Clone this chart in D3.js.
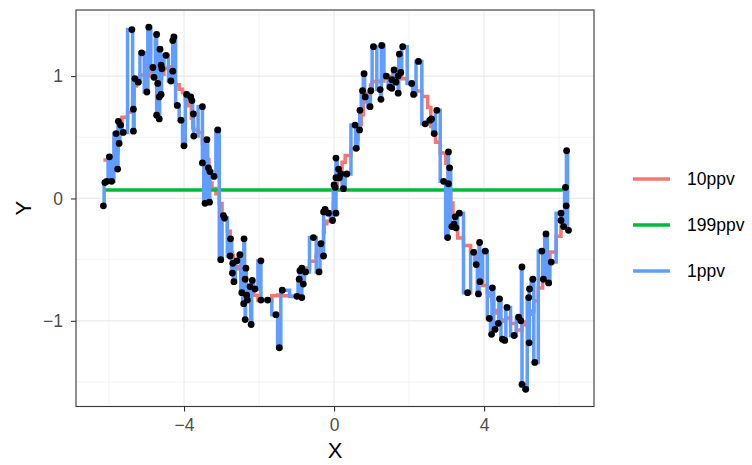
<!DOCTYPE html>
<html>
<head>
<meta charset="utf-8">
<script src="https://cdn.jsdelivr.net/npm/d3@7"></script>
<style>
  body { margin: 0; background: #fff; }
  svg text { font-family: "Liberation Sans", Arial, sans-serif; }
</style>
</head>
<body>
<div id="chart-root"></div>
<script>
// point values (sorted by x)
const xValues = [
  -6.15, -6.11, -6.06, -5.99, -5.93, -5.81, -5.77, -5.75, -5.73, -5.69,
  -5.62, -5.39, -5.35, -5.35, -5.31, -5.22, -5.13, -4.99, -4.94, -4.83,
  -4.80, -4.73, -4.73, -4.70, -4.66, -4.66, -4.64, -4.61, -4.61, -4.59,
  -4.48, -4.35, -4.30, -4.30, -4.27, -4.18, -4.08, -4.00, -3.93, -3.82,
  -3.79, -3.75, -3.74, -3.51, -3.51, -3.44, -3.39, -3.35, -3.32, -3.31,
  -3.20, -3.10, -3.02, -2.95, -2.92, -2.77, -2.76, -2.71, -2.70, -2.67,
  -2.59, -2.51, -2.46, -2.41, -2.40, -2.37, -2.37, -2.35, -2.33, -2.31,
  -2.24, -2.21, -2.18, -2.11, -1.95, -1.95, -1.77, -1.55, -1.46, -1.38,
  -0.99, -0.93, -0.91, -0.86, -0.86, -0.82, -0.76, -0.55, -0.40, -0.35,
  -0.28, -0.28, -0.24, -0.15, -0.04, 0.00, 0.03, 0.05, 0.05, 0.05,
  0.12, 0.14, 0.18, 0.25, 0.34, 0.56, 0.59, 0.68, 0.69, 0.76,
  0.80, 0.83, 0.96, 0.98, 1.05, 1.23, 1.25, 1.27, 1.39, 1.49,
  1.54, 1.54, 1.60, 1.65, 1.71, 1.71, 1.74, 1.78, 1.83, 2.07,
  2.12, 2.25, 2.43, 2.56, 2.60, 2.67, 2.74, 2.92, 3.03, 3.05,
  3.05, 3.08, 3.14, 3.20, 3.23, 3.25, 3.34, 3.56, 3.72, 3.79,
  3.85, 3.88, 3.89, 4.03, 4.14, 4.20, 4.22, 4.29, 4.38, 4.41,
  4.49, 4.55, 4.61, 4.80, 4.92, 4.98, 5.01, 5.01, 5.11, 5.19,
  5.20, 5.21, 5.30, 5.35, 5.54, 5.58, 5.65, 5.72, 5.79, 6.05,
  6.05, 6.12, 6.17, 6.19, 6.20, 6.25
];
const yValues = [
  -0.06, 0.13, 0.14, 0.34, 0.14, 0.53, 0.24, 0.63, 0.45, 0.60,
  0.54, 1.38, 0.73, 0.55, 0.98, 0.95, 1.19, 0.87, 1.40, 1.07,
  0.99, 1.34, 0.68, 0.94, 0.83, 0.65, 1.22, 1.09, 0.85, 1.06,
  1.17, 0.96, 1.04, 1.29, 1.32, 0.76, 0.64, 0.43, 0.85, 0.83,
  0.80, 0.69, 0.51, 0.75, 0.29, -0.04, 0.48, 0.25, -0.03, 0.22,
  0.18, 0.56, -0.50, -0.14, -0.16, -0.47, -0.33, -0.61, -0.53, -0.68,
  -0.51, -0.46, -0.77, -0.86, -0.33, -0.66, -0.99, -0.57, -0.79, -0.83,
  -0.72, -1.03, -0.67, -0.74, -0.51, -0.83, -0.83, -0.95, -1.22, -0.75,
  -0.80, -0.66, -0.59, -0.81, -0.57, -0.70, -0.60, -0.32, -0.60, -0.37,
  -0.47, -0.11, -0.09, -0.12, -0.18, 0.11, 0.09, -0.12, 0.17, 0.33,
  0.24, 0.17, 0.20, 0.08, 0.20, 0.60, 0.41, 0.56, 0.72, 0.88,
  1.02, 0.83, 0.75, 0.88, 1.24, 0.89, 0.81, 1.25, 1.00, 0.91,
  0.97, 0.90, 1.05, 0.95, 1.00, 0.86, 1.18, 1.03, 1.24, 0.94,
  0.85, 1.12, 0.61, 0.64, 0.65, 0.53, 0.72, 0.14, -0.32, 0.38,
  0.12, 0.25, -0.23, -0.21, -0.15, -0.24, -0.12, -0.77, -0.44, -0.54,
  -0.78, -0.36, -0.68, -0.43, -0.98, -1.11, -0.73, -1.07, -1.02, -0.82,
  -1.15, -1.16, -0.89, -1.12, -0.97, -1.00, -0.56, -1.52, -1.56, -0.81,
  -1.18, -0.74, -0.66, -1.34, -0.43, -0.66, -0.29, -0.69, -0.52, -0.12,
  -0.18, -0.23, 0.09, -0.06, 0.39, -0.26
];
const seriesNames = ['10ppv', '199ppv', '1ppv'];
const seriesWindows = [10, 199, 1];   // points averaged per value
const seriesColors = ['#F8766D', '#00BA38', '#619CFF'];
const xTicks = [-4, 0, 4];
const xMinor = [-6, -2, 2, 6];
const yTicks = [-1, 0, 1];
const yMinor = [-1.5, -0.5, 0.5, 1.5];

const W = 752, H = 465;
const panel = {left: 76, right: 594, top: 10, bottom: 406.5};

const points = xValues.map((x, i) => ({x: x, y: yValues[i]}));

// running mean over a fixed window of k points, clamped at the ends
function windowMean(k) {
  const n = points.length;
  const w = Math.min(k, n);
  return points.map((p, i) => {
    let start = Math.max(0, Math.min(n - w, i - Math.floor(w / 2)));
    const slice = points.slice(start, start + w);
    return {x: p.x, y: d3.mean(slice, d => d.y)};
  });
}

const x = d3.scaleLinear().domain([-6.88, 6.93]).range([panel.left, panel.right]);
const y = d3.scaleLinear().domain([-1.70, 1.54]).range([panel.bottom, panel.top]);

const svg = d3.select('#chart-root').append('svg')
    .attr('width', W).attr('height', H);

// grid
const grid = svg.append('g');
grid.selectAll('.xminor').data(xMinor).join('line')
    .attr('x1', d => x(d)).attr('x2', d => x(d))
    .attr('y1', panel.top).attr('y2', panel.bottom)
    .attr('stroke', '#EBEBEB').attr('stroke-width', 0.6);
grid.selectAll('.yminor').data(yMinor).join('line')
    .attr('y1', d => y(d)).attr('y2', d => y(d))
    .attr('x1', panel.left).attr('x2', panel.right)
    .attr('stroke', '#EBEBEB').attr('stroke-width', 0.6);
grid.selectAll('.xmajor').data(xTicks).join('line')
    .attr('x1', d => x(d)).attr('x2', d => x(d))
    .attr('y1', panel.top).attr('y2', panel.bottom)
    .attr('stroke', '#EBEBEB').attr('stroke-width', 1.2);
grid.selectAll('.ymajor').data(yTicks).join('line')
    .attr('y1', d => y(d)).attr('y2', d => y(d))
    .attr('x1', panel.left).attr('x2', panel.right)
    .attr('stroke', '#EBEBEB').attr('stroke-width', 1.2);

// step lines
const stepLine = d3.line().x(d => x(d.x)).y(d => y(d.y)).curve(d3.curveStep);
const clip = svg.append('clipPath').attr('id', 'panel-clip').append('rect')
    .attr('x', panel.left).attr('y', panel.top)
    .attr('width', panel.right - panel.left).attr('height', panel.bottom - panel.top);
const lines = svg.append('g').attr('clip-path', 'url(#panel-clip)');
seriesNames.forEach((name, i) => {
  lines.append('path')
      .datum(windowMean(seriesWindows[i]))
      .attr('d', stepLine)
      .attr('fill', 'none')
      .attr('stroke', seriesColors[i])
      .attr('stroke-width', 3.5);
});

// points
svg.append('g').selectAll('circle').data(points).join('circle')
    .attr('cx', d => x(d.x)).attr('cy', d => y(d.y))
    .attr('r', 3.4).attr('fill', '#000');

// panel border
svg.append('rect')
    .attr('x', panel.left).attr('y', panel.top)
    .attr('width', panel.right - panel.left).attr('height', panel.bottom - panel.top)
    .attr('fill', 'none').attr('stroke', '#333333').attr('stroke-width', 1.1);

// axes
const fmt = d => d < 0 ? '\u2212' + Math.abs(d) : String(d);
const xAxis = svg.append('g').attr('transform', `translate(0,${panel.bottom})`)
    .call(d3.axisBottom(x).tickValues(xTicks).tickSize(5).tickPadding(7).tickFormat(fmt));
const yAxis = svg.append('g').attr('transform', `translate(${panel.left},0)`)
    .call(d3.axisLeft(y).tickValues(yTicks).tickSize(5).tickPadding(8).tickFormat(fmt));
[xAxis, yAxis].forEach(a => {
  a.select('.domain').remove();
  a.selectAll('.tick line').attr('stroke', '#333333').attr('stroke-width', 1.1);
  a.selectAll('.tick text').attr('fill', '#4D4D4D')
      .style('font-size', '17.5px').style('font-family', '"Liberation Sans", Arial, sans-serif');
});

svg.append('text').attr('x', (panel.left + panel.right) / 2).attr('y', 458)
    .attr('text-anchor', 'middle').attr('font-size', 22).attr('fill', '#000').text('X');
svg.append('text')
    .attr('transform', `translate(31,${(panel.top + panel.bottom) / 2}) rotate(-90)`)
    .attr('text-anchor', 'middle').attr('font-size', 22).attr('fill', '#000').text('Y');

// legend
const legend = svg.append('g');
const legendY = [179, 225, 271];
seriesNames.forEach((name, i) => {
  legend.append('line')
      .attr('x1', 633).attr('x2', 670)
      .attr('y1', legendY[i]).attr('y2', legendY[i])
      .attr('stroke', seriesColors[i]).attr('stroke-width', 3.5);
  legend.append('text')
      .attr('x', 687).attr('y', legendY[i] + 6)
      .attr('font-size', 17.5).attr('fill', '#000').text(name);
});
</script>
</body>
</html>
